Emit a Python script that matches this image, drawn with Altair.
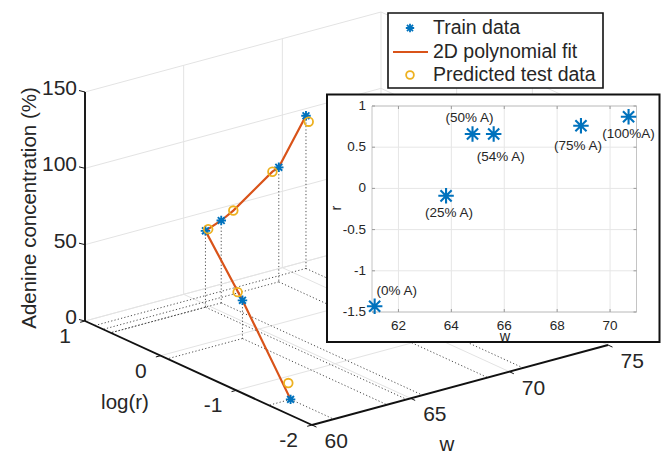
import altair as alt
import pandas as pd

# ---------------- values ----------------
train_w = [61.1, 63.8, 64.8, 65.6, 68.9, 70.7]
train_logr = [-1.43, -0.09, 0.66, 0.66, 0.76, 0.87]
train_conc = [0, 25, 50, 54, 75, 100]
train_labels = ["(0% A)", "(25% A)", "(50% A)", "(54% A)", "(75% A)", "(100%A)"]

test_w = [61.1, 63.9, 64.9, 66.25, 68.5, 70.8]
test_logr = [-1.40, 0.0, 0.65, 0.67, 0.74, 0.86]
test_conc = [10, 28, 51, 58, 74, 96]

fit_w = [61.1, 63.8, 64.8, 65.6, 66.25, 68.5, 68.9, 70.7]
fit_logr = [-1.43, -0.09, 0.66, 0.66, 0.67, 0.74, 0.76, 0.87]
fit_conc = [0, 25, 50, 54, 58, 74, 75, 100]

w_ticks = [60, 65, 70, 75]
logr_ticks = [-2, -1, 0, 1]
conc_ticks = [0, 50, 100, 150]

inset_w_lim = [61, 71]
inset_r_lim = [-1.5, 1]
inset_w_ticks = [62, 64, 66, 68, 70]
inset_r_ticks = [-1.5, -1, -0.5, 0, 0.5, 1]

legend_labels = ["Train data", "2D polynomial fit", "Predicted test data"]

# ---------------- layout / style ----------------
W, H = 662, 457
FONT = "Liberation Sans"
BLUE, ORANGE, YELLOW = "#0072BD", "#D95319", "#EDB120"
TXT = "#262626"
ASTER = "M-1,0L1,0M0,-1L0,1M-0.72,-0.72L0.72,0.72M-0.72,0.72L0.72,-0.72"

O = (312.0, 425.0)            # screen position of (w=60, log r=-2, conc=0)
EW = (296 / 15, -80 / 15)     # screen shift per unit of w
EL = (-227 / 3, -104 / 3)     # screen shift per unit of log(r)
EZ = -229 / 150               # screen shift per unit of concentration

w0, w1 = w_ticks[0], w_ticks[-1]
L0, L1 = logr_ticks[0], logr_ticks[-1]
z0, z1 = conc_ticks[0], conc_ticks[-1]


def proj(w, L, z):
    return (O[0] + EW[0] * (w - w0) + EL[0] * (L - L0),
            O[1] + EW[1] * (w - w0) + EL[1] * (L - L0) + EZ * z)


def seg_df(pairs, off=None):
    rows = []
    for a, b in pairs:
        x1, y1 = proj(*a)
        if off is None:
            x2, y2 = proj(*b)
        else:
            x2, y2 = x1 + off[0], y1 + off[1]
        rows.append(dict(x=x1, y=y1, x2=x2, y2=y2))
    return pd.DataFrame(rows)


def pt_df(ws, Ls, zs, extra=None):
    rows = []
    for i, (w, L, z) in enumerate(zip(ws, Ls, zs)):
        x, y = proj(w, L, z)
        r = dict(x=x, y=y, o=i)
        if extra is not None:
            r["t"] = extra[i]
        rows.append(r)
    return pd.DataFrame(rows)


PX = alt.Scale(domain=[0, W], range=[0, W], nice=False, zero=False)
PY = alt.Scale(domain=[0, H], range=[0, H], nice=False, zero=False)


def rules(df, **mk):
    return alt.Chart(df).mark_rule(**mk).encode(
        x=alt.X("x:Q", scale=PX, axis=None),
        y=alt.Y("y:Q", scale=PY, axis=None),
        x2="x2:Q", y2="y2:Q")


def texts(df, **mk):
    return alt.Chart(df).mark_text(font=FONT, color=TXT, **mk).encode(
        x=alt.X("x:Q", scale=PX, axis=None),
        y=alt.Y("y:Q", scale=PY, axis=None),
        text="t:N")


def points(df, **mk):
    return alt.Chart(df).mark_point(**mk).encode(
        x=alt.X("x:Q", scale=PX, axis=None),
        y=alt.Y("y:Q", scale=PY, axis=None))


layers = []

# ---- back walls and floor grid ----
grid_pairs = []
for w in w_ticks[1:]:
    grid_pairs.append(((w, L1, z0), (w, L1, z1)))
    grid_pairs.append(((w, L0, z0), (w, L1, z0)))
for z in conc_ticks:
    grid_pairs.append(((w0, L1, z), (w1, L1, z)))
    grid_pairs.append(((w1, L0, z), (w1, L1, z)))
for L in logr_ticks[:-1]:
    grid_pairs.append(((w1, L, z0), (w1, L, z1)))
for L in logr_ticks[1:]:
    grid_pairs.append(((w0, L, z0), (w1, L, z0)))
layers.append(rules(seg_df(grid_pairs), color="#e3e3e3", strokeWidth=1))

# ---- dotted projection lines of the training points ----
dot_pairs = []
for w, L, z in zip(train_w, train_logr, train_conc):
    if z > 0:
        dot_pairs.append(((w, L, z), (w, L, 0)))
    dot_pairs.append(((w, L, 0), (w0, L, 0)))
    dot_pairs.append(((w, L, 0), (w, L0, 0)))
layers.append(rules(seg_df(dot_pairs), color="#3a3a3a", strokeWidth=0.9,
                    strokeDash=[1.2, 2.2]))

# ---- axis lines and ticks ----
axis_pairs = [((w0, L1, z0), (w0, L1, z1)),
              ((w0, L0, z0), (w0, L1, z0)),
              ((w0, L0, z0), (w1, L0, z0))]
layers.append(rules(seg_df(axis_pairs), color="#111111", strokeWidth=1.9))
layers.append(rules(seg_df([((w0, L1, z), None) for z in conc_ticks], off=(-6, -1.5)),
                    color="#111111", strokeWidth=1))
layers.append(rules(seg_df([((w0, L, z0), None) for L in logr_ticks], off=(-4.8, 1.3)),
                    color="#111111", strokeWidth=1))
layers.append(rules(seg_df([((w, L0, z0), None) for w in w_ticks], off=(4.5, 2.1)),
                    color="#111111", strokeWidth=1))

# ---- tick labels ----
zl = pt_df([w0] * 4, [L1] * 4, conc_ticks, [str(v) for v in conc_ticks])
layers.append(texts(zl, align="right", baseline="middle", dx=-8, dy=-3, fontSize=21))
ll = pt_df([w0] * 4, logr_ticks, [z0] * 4, [str(v) for v in logr_ticks])
layers.append(texts(ll, align="right", baseline="middle", dx=-14, dy=16, fontSize=21))
wl = pt_df(w_ticks, [L0] * 4, [z0] * 4, [str(v) for v in w_ticks])
layers.append(texts(wl, align="left", baseline="middle", dx=12.5, dy=17, fontSize=21))

# ---- axis titles ----
layers.append(texts(pd.DataFrame([dict(x=30, y=208, t="Adenine concentration (%)")]),
                    align="center", baseline="middle", angle=270, fontSize=20.5))
layers.append(texts(pd.DataFrame([dict(x=125, y=409, t="log(r)")]),
                    align="center", baseline="alphabetic", fontSize=20.5))
layers.append(texts(pd.DataFrame([dict(x=447, y=445, t="w")]),
                    align="center", baseline="middle", fontSize=20.5))

# ---- fit line, training points, predictions ----
fit = pt_df(fit_w, fit_logr, fit_conc)
layers.append(alt.Chart(fit).mark_line(color=ORANGE, strokeWidth=2.2).encode(
    x=alt.X("x:Q", scale=PX, axis=None), y=alt.Y("y:Q", scale=PY, axis=None),
    order="o:Q"))
layers.append(points(pt_df(train_w, train_logr, train_conc), shape=ASTER, filled=False,
                     color=BLUE, size=90, strokeWidth=1.9, opacity=1))
layers.append(points(pt_df(test_w, test_logr, test_conc), shape="circle", filled=False,
                     color=YELLOW, size=75, strokeWidth=1.8, opacity=1))

# ---- legend ----
leg_box = pd.DataFrame([dict(x=388, y=13, x2=603, y2=88)])
layers.append(alt.Chart(leg_box).mark_rect(fill="white", stroke="#111111", strokeWidth=1.6).encode(
    x=alt.X("x:Q", scale=PX, axis=None), y=alt.Y("y:Q", scale=PY, axis=None),
    x2="x2:Q", y2="y2:Q"))
layers.append(points(pd.DataFrame([dict(x=410, y=28)]), shape=ASTER, filled=False,
                     color=BLUE, size=70, strokeWidth=1.8, opacity=1))
layers.append(rules(pd.DataFrame([dict(x=393, y=52, x2=428, y2=52)]), color=ORANGE, strokeWidth=2.2))
layers.append(points(pd.DataFrame([dict(x=410, y=75)]), shape="circle", filled=False,
                     color=YELLOW, size=60, strokeWidth=1.8, opacity=1))
layers.append(texts(pd.DataFrame([dict(x=433, y=y, t=t) for y, t in zip([28, 52, 75], legend_labels)]),
                    align="left", baseline="middle", fontSize=19.5))

# ---- inset frame ----
ins_box = pd.DataFrame([dict(x=327, y=94.5, x2=659.5, y2=342)])
layers.append(alt.Chart(ins_box).mark_rect(fill="white", stroke="#111111", strokeWidth=2).encode(
    x=alt.X("x:Q", scale=PX, axis=None), y=alt.Y("y:Q", scale=PY, axis=None),
    x2="x2:Q", y2="y2:Q"))

# ---- inset axes (own scales) ----
IX = alt.Scale(domain=inset_w_lim, range=[372, 636.5], nice=False, zero=False)
IY = alt.Scale(domain=inset_r_lim, range=[312, 106], nice=False, zero=False)


def ienc(xf, yf, x2f=None, y2f=None):
    e = dict(x=alt.X(xf, type="quantitative", scale=IX, axis=None),
             y=alt.Y(yf, type="quantitative", scale=IY, axis=None))
    if x2f:
        e["x2"] = alt.X2(x2f)
    if y2f:
        e["y2"] = alt.Y2(y2f)
    return e


gx = pd.DataFrame(dict(w=inset_w_ticks, r0=inset_r_lim[0], r1=inset_r_lim[1]))
gy = pd.DataFrame(dict(r=inset_r_ticks, w0=inset_w_lim[0], w1=inset_w_lim[1]))
layers.append(alt.Chart(gx).mark_rule(color="#e6e6e6", strokeWidth=1).encode(**ienc("w", "r0", None, "r1")))
layers.append(alt.Chart(gy).mark_rule(color="#e6e6e6", strokeWidth=1).encode(**ienc("w0", "r", "w1")))
frame = pd.DataFrame([dict(a=inset_w_lim[0], b=inset_w_lim[1], c=inset_r_lim[0], d=inset_r_lim[1])])
layers.append(alt.Chart(frame).mark_rect(fillOpacity=0, stroke="#c4c4c4", strokeWidth=1).encode(
    **ienc("a", "c", "b", "d")))
# inward ticks
layers.append(alt.Chart(gx).mark_rule(color="#9a9a9a", strokeWidth=1, y2Offset=-3).encode(**ienc("w", "r0", None, "r0")))
layers.append(alt.Chart(gx).mark_rule(color="#9a9a9a", strokeWidth=1, y2Offset=3).encode(**ienc("w", "r1", None, "r1")))
layers.append(alt.Chart(gy).mark_rule(color="#9a9a9a", strokeWidth=1, x2Offset=3).encode(**ienc("w0", "r", "w0")))
layers.append(alt.Chart(gy).mark_rule(color="#9a9a9a", strokeWidth=1, x2Offset=-3).encode(**ienc("w1", "r", "w1")))
# tick labels
gx["t"] = [str(v) for v in inset_w_ticks]
gy["t"] = [("%g" % v) for v in inset_r_ticks]
layers.append(alt.Chart(gx).mark_text(font=FONT, color=TXT, fontSize=13.5, baseline="middle", dy=14).encode(
    text="t:N", **ienc("w", "r0")))
layers.append(alt.Chart(gy).mark_text(font=FONT, color=TXT, fontSize=13.5, baseline="middle", align="right", dx=-6).encode(
    text="t:N", **ienc("w0", "r")))

# inset data
train = pd.DataFrame(dict(w=train_w, r=train_logr, lab=train_labels))
layers.append(alt.Chart(train).mark_point(shape=ASTER, filled=False, color=BLUE, size=240,
                                          strokeWidth=2.1, opacity=1).encode(**ienc("w", "r")))
lab_dx = [22, 3, -3, 7, -3, 0]
lab_dy = [-15, 17, -16, 23, 20, 17]
for lab, dx, dy in zip(train_labels, lab_dx, lab_dy):
    layers.append(alt.Chart(train).transform_filter(alt.datum.lab == lab).mark_text(
        font=FONT, color=TXT, fontSize=13.5, baseline="middle", align="center", dx=dx, dy=dy
    ).encode(text="lab:N", **ienc("w", "r")))

# inset axis titles
layers.append(texts(pd.DataFrame([dict(x=505, y=337, t="w")]), align="center",
                    baseline="middle", fontSize=14.5))
layers.append(texts(pd.DataFrame([dict(x=337, y=208, t="r")]), align="center",
                    baseline="middle", angle=270, fontSize=14.5))

chart = alt.layer(*layers).resolve_scale(x="independent", y="independent").properties(
    width=W, height=H, autosize=alt.AutoSizeParams(type="none"), padding=0,
    background="white"
).configure_view(stroke=None)

chart.save("out.html", embed_options={"renderer": "svg", "actions": False})
